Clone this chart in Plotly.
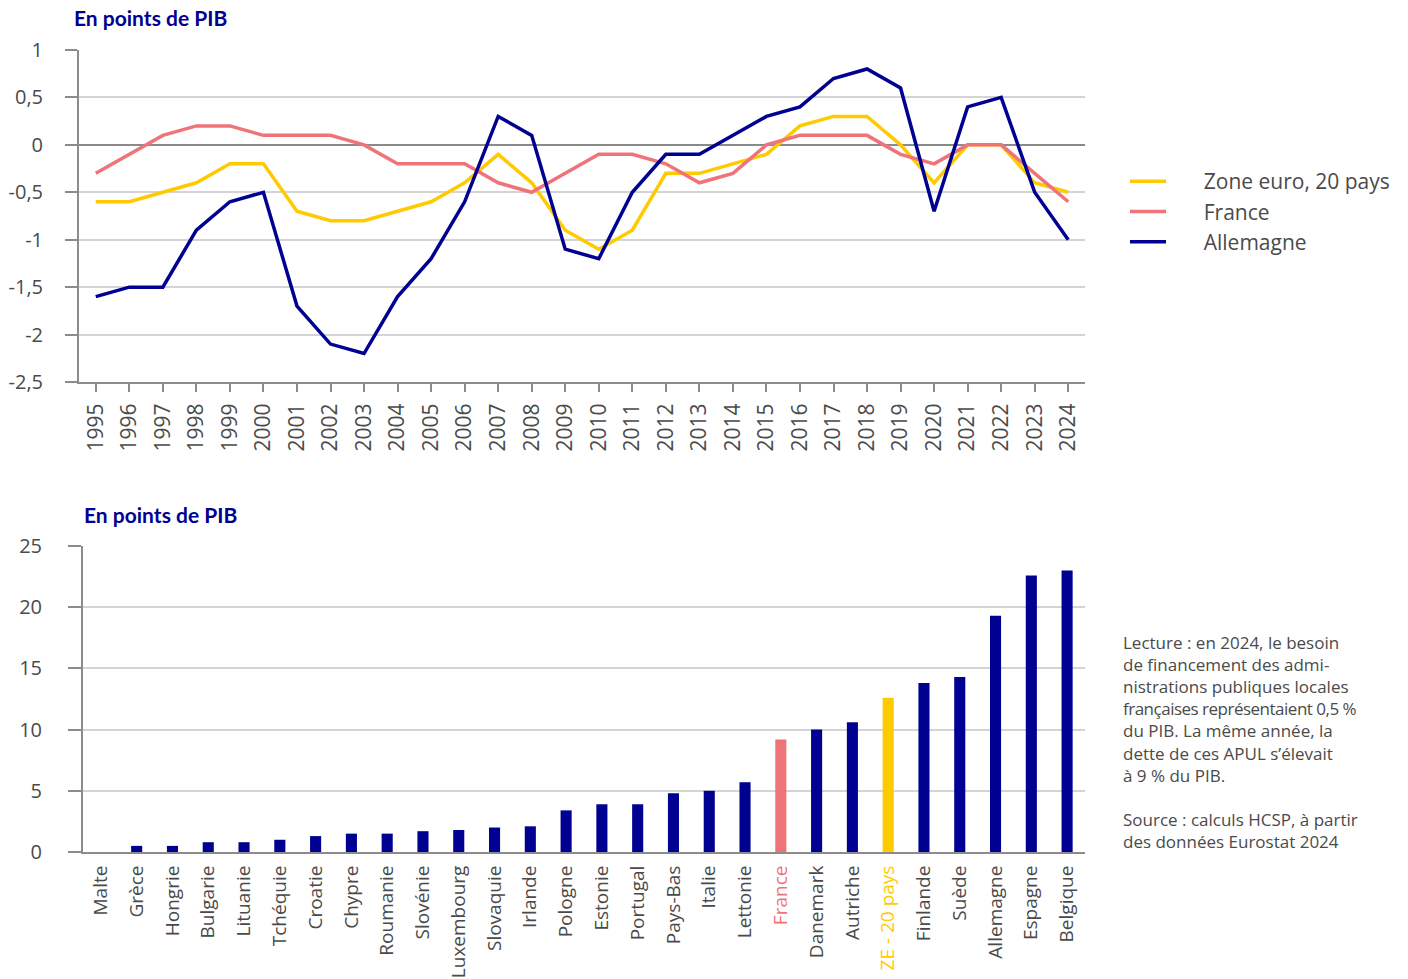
import plotly.graph_objects as go

# --- Solde des APUL, en points de PIB (1995-2024) ---
years = list(range(1995, 2025))
zone_euro = [-0.6, -0.6, -0.5, -0.4, -0.2, -0.2, -0.7, -0.8, -0.8, -0.7,
             -0.6, -0.4, -0.1, -0.4, -0.9, -1.1, -0.9, -0.3, -0.3, -0.2,
             -0.1, 0.2, 0.3, 0.3, 0.0, -0.4, 0.0, 0.0, -0.4, -0.5]
france = [-0.3, -0.1, 0.1, 0.2, 0.2, 0.1, 0.1, 0.1, 0.0, -0.2,
          -0.2, -0.2, -0.4, -0.5, -0.3, -0.1, -0.1, -0.2, -0.4, -0.3,
          0.0, 0.1, 0.1, 0.1, -0.1, -0.2, 0.0, 0.0, -0.3, -0.6]
allemagne = [-1.6, -1.5, -1.5, -0.9, -0.6, -0.5, -1.7, -2.1, -2.2, -1.6,
             -1.2, -0.6, 0.3, 0.1, -1.1, -1.2, -0.5, -0.1, -0.1, 0.1,
             0.3, 0.4, 0.7, 0.8, 0.6, -0.7, 0.4, 0.5, -0.5, -1.0]
top_tickvals = [1, 0.5, 0, -0.5, -1, -1.5, -2, -2.5]
top_ticktext = ["1", "0,5", "0", "-0,5", "-1", "-1,5", "-2", "-2,5"]

# --- Dette des APUL en 2024, en points de PIB ---
pays = ["Malte", "Grèce", "Hongrie", "Bulgarie", "Lituanie", "Tchéquie",
        "Croatie", "Chypre", "Roumanie", "Slovénie", "Luxembourg", "Slovaquie",
        "Irlande", "Pologne", "Estonie", "Portugal", "Pays-Bas", "Italie",
        "Lettonie", "France", "Danemark", "Autriche", "ZE - 20 pays",
        "Finlande", "Suède", "Allemagne", "Espagne", "Belgique"]
dette = [0.0, 0.5, 0.5, 0.8, 0.8, 1.0, 1.3, 1.5, 1.5, 1.7, 1.8, 2.0,
         2.1, 3.4, 3.9, 3.9, 4.8, 5.0, 5.7, 9.2, 10.0, 10.6, 12.6,
         13.8, 14.3, 19.3, 22.6, 23.0]

NAVY = "#000091"
PINK = "#EF747A"
YELLOW = "#FFCA00"
GRID = "#d4d4d4"
AXIS = "#8c8c8c"
TXT = "#4a4a4a"
FONT = "Open Sans"
LEGEND_PAD = "\u00a0" * 6  # gap between legend swatch and label

bar_colors = []
tick_text = []
for p in pays:
    if p == "France":
        bar_colors.append(PINK)
        tick_text.append(f"<span style='color:{PINK}'>{p}</span>")
    elif p.startswith("ZE"):
        bar_colors.append(YELLOW)
        tick_text.append(f"<span style='color:{YELLOW}'>{p}</span>")
    else:
        bar_colors.append(NAVY)
        tick_text.append(p)

fig = go.Figure()

for name, vals, col in [("Zone euro, 20 pays", zone_euro, YELLOW),
                        ("France", france, PINK),
                        ("Allemagne", allemagne, NAVY)]:
    fig.add_trace(go.Scatter(x=years, y=vals, name=LEGEND_PAD + name, mode="lines",
                             line=dict(color=col, width=3.5),
                             xaxis="x", yaxis="y"))

fig.add_trace(go.Bar(x=pays, y=dette, marker=dict(color=bar_colors, line=dict(width=0)),
                     width=0.31, showlegend=False, xaxis="x2", yaxis="y2"))

W, H = 1408, 979


def px_x(v):
    return v / W


def px_y(v):
    return 1 - v / H


fig.update_layout(
    width=W, height=H,
    margin=dict(l=0, r=0, t=0, b=0, autoexpand=False),
    paper_bgcolor="white", plot_bgcolor="white",
    font=dict(family=FONT, color=TXT, size=17),
    xaxis=dict(domain=[px_x(79), px_x(1085)], anchor="y", automargin=False,
               range=[1994.5, 2024.5], tickmode="array", tickvals=years,
               ticktext=[str(y) for y in years], tickangle=-90,
               showgrid=False, zeroline=False,
               showline=True, linecolor=AXIS, linewidth=2,
               ticks="outside", ticklen=8, tickcolor=AXIS, tickwidth=1.5,
               ticklabelstandoff=3,
               tickfont=dict(size=21, color=TXT)),
    yaxis=dict(domain=[px_y(382), px_y(50)], anchor="x", automargin=False,
               range=[-2.5, 1], tickmode="array", tickvals=top_tickvals,
               ticktext=top_ticktext,
               showgrid=True, gridcolor=GRID, gridwidth=1.5,
               zeroline=True, zerolinecolor="#8a8a8a", zerolinewidth=2,
               showline=True, linecolor=AXIS, linewidth=2,
               ticks="outside", ticklen=12, tickcolor=AXIS, tickwidth=1.5,
               ticklabelstandoff=18,
               tickfont=dict(size=20, color=TXT)),
    xaxis2=dict(domain=[px_x(83), px_x(1085)], anchor="y2", automargin=False,
                type="category", tickmode="array", tickvals=pays,
                ticktext=tick_text, tickangle=-90, range=[-0.5, 27.5],
                showgrid=False, zeroline=False,
                showline=True, linecolor=AXIS, linewidth=2,
                ticks="", ticklabelstandoff=4,
                tickfont=dict(size=19, color=TXT)),
    yaxis2=dict(domain=[px_y(852), px_y(546)], anchor="x2", automargin=False,
                range=[0, 25], tickmode="array", tickvals=[0, 5, 10, 15, 20, 25],
                showgrid=True, gridcolor=GRID, gridwidth=1.5,
                zeroline=False,
                showline=True, linecolor=AXIS, linewidth=2,
                ticks="outside", ticklen=13, tickcolor=AXIS, tickwidth=1.5,
                ticklabelstandoff=22,
                tickfont=dict(size=20, color=TXT)),
    legend=dict(x=px_x(1125), y=px_y(161), xanchor="left", yanchor="top",
                font=dict(size=21, color=TXT), bgcolor="rgba(0,0,0,0)",
                itemwidth=36, tracegroupgap=0),
    showlegend=True,
    bargap=0.7,
)

fig.add_annotation(text="<b>En points de PIB</b>", xref="paper", yref="paper",
                   x=px_x(72), y=px_y(17), xanchor="left", yanchor="middle",
                   showarrow=False, font=dict(size=21, color=NAVY, family="Lato"))
fig.add_annotation(text="<b>En points de PIB</b>", xref="paper", yref="paper",
                   x=px_x(82), y=px_y(514), xanchor="left", yanchor="middle",
                   showarrow=False, font=dict(size=21, color=NAVY, family="Lato"))

note = ("Lecture : en 2024, le besoin<br>"
        "de financement des admi-<br>"
        "nistrations publiques locales<br>"
        "<span style='letter-spacing:-0.5px'>françaises représentaient 0,5 %</span><br>"
        "du PIB. La même année, la<br>"
        "dette de ces APUL s’élevait<br>"
        "à 9 % du PIB.<br>"
        "<br>"
        "Source : calculs HCSP, à partir<br>"
        "des données Eurostat 2024")
fig.add_annotation(text=note, xref="paper", yref="paper",
                   x=px_x(1121), y=px_y(629), xanchor="left", yanchor="top",
                   align="left", showarrow=False,
                   font=dict(size=17, color=TXT, family=FONT))

fig.write_html("out.html")
